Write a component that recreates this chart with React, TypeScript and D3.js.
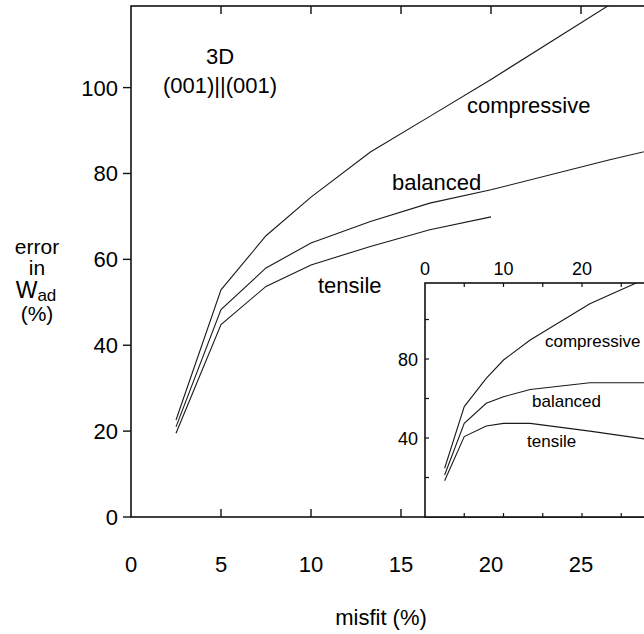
import React, { useRef, useEffect } from "react";
import * as d3 from "d3";

// main panel: 3D (001)||(001), error in W_ad vs misfit
const misfit = [2.5, 5, 7.5, 10, 13.3, 16.6, 20, 26.6, 30];
const compressive = [22.6, 52.9, 65.5, 74.5, 85, 93.3, 101.9, 119.3, 128];
const balanced = [21.0, 48.3, 58, 63.8, 68.8, 73.1, 76.2, 83.2, 86.5];
const tensileMisfit = [2.5, 5, 7.5, 10, 13.3, 16.6, 20];
const tensile = [19.5, 44.8, 53.7, 58.7, 63, 66.9, 69.9];

// inset panel
const insetMisfit = [2.5, 5, 7.8, 10, 13.4, 21, 30];
const insetCompressive = [24.7, 55.9, 70.2, 79.5, 89.6, 108, 124];
const insetBalanced = [21.3, 47.4, 57.6, 60.9, 64.6, 68, 68];
const insetTensile = [18.4, 40.7, 46.1, 47.4, 47.4, 43.5, 38.4];

const xTicks = [0, 5, 10, 15, 20, 25];
const yTicks = [0, 20, 40, 60, 80, 100];
const insetXLabels = [0, 10, 20];
const insetYLabels = [40, 80];

const font = "'Liberation Sans', Arial, Helvetica, sans-serif";

const drawChart = (svgEl: SVGSVGElement) => {
	const svg = d3.select(svgEl);
	svg.selectAll("*").remove();

	const x = d3.scaleLinear().domain([0, 30]).range([131, 671]);
	const y = d3.scaleLinear().domain([0, 119]).range([517, 6]);

	svg
		.append("clipPath")
		.attr("id", "mainClip")
		.append("rect")
		.attr("x", x(0))
		.attr("y", y(119))
		.attr("width", x(30) - x(0))
		.attr("height", y(0) - y(119));

	const line = (xs: number[], ys: number[], sx: any, sy: any) =>
		d3
			.line<number>()
			.x((d, i) => sx(xs[i]))
			.y((d) => sy(d))(ys);

	// curves
	const curves = svg.append("g").attr("clip-path", "url(#mainClip)");
	[
		[misfit, compressive],
		[misfit, balanced],
		[tensileMisfit, tensile],
	].forEach(([xs, ys]) => {
		curves
			.append("path")
			.attr("d", line(xs, ys, x, y))
			.attr("fill", "none")
			.attr("stroke", "#1a1a1a")
			.attr("stroke-width", 1.1);
	});

	// frame
	svg
		.append("rect")
		.attr("x", x(0))
		.attr("y", y(119))
		.attr("width", x(30) - x(0))
		.attr("height", y(0) - y(119))
		.attr("fill", "none")
		.attr("stroke", "#111")
		.attr("stroke-width", 1.6);

	// y ticks (outward) + labels
	yTicks.forEach((t) => {
		svg
			.append("line")
			.attr("x1", x(0) - 8)
			.attr("x2", x(0))
			.attr("y1", y(t))
			.attr("y2", y(t))
			.attr("stroke", "#111")
			.attr("stroke-width", 1.4);
		svg
			.append("text")
			.text(t)
			.attr("x", 118)
			.attr("y", y(t) + 8)
			.attr("text-anchor", "end")
			.attr("font-size", 22)
			.attr("font-family", font);
	});

	// x ticks (inward top and bottom) + labels
	d3.range(5, 30, 5).forEach((t) => {
		[y(0), y(119)].forEach((yy, k) => {
			svg
				.append("line")
				.attr("x1", x(t))
				.attr("x2", x(t))
				.attr("y1", yy)
				.attr("y2", k === 0 ? yy - 8 : yy + 8)
				.attr("stroke", "#111")
				.attr("stroke-width", 1.4);
		});
	});
	xTicks.forEach((t) => {
		svg
			.append("text")
			.text(t)
			.attr("x", x(t))
			.attr("y", 572)
			.attr("text-anchor", "middle")
			.attr("font-size", 22)
			.attr("font-family", font);
	});

	// axis titles
	svg
		.append("text")
		.text("misfit (%)")
		.attr("x", 381)
		.attr("y", 625)
		.attr("text-anchor", "middle")
		.attr("font-size", 22)
		.attr("font-family", font);

	const yl = svg
		.append("text")
		.attr("text-anchor", "middle")
		.attr("font-size", 21)
		.attr("font-family", font);
	yl.append("tspan").attr("x", 37).attr("y", 254).text("error");
	yl.append("tspan").attr("x", 37).attr("y", 275).text("in");
	yl.append("tspan").attr("x", 37).attr("y", 321).text("(%)");
	const w = svg
		.append("text")
		.attr("x", 36)
		.attr("y", 298)
		.attr("text-anchor", "middle")
		.attr("font-size", 23)
		.attr("font-family", font);
	w.append("tspan").text("W");
	w.append("tspan").attr("font-size", 17).attr("dy", 3).text("ad");

	// annotations
	const ann = [
		{ t: "3D", x: 220, y: 64, a: "middle" },
		{ t: "(001)||(001)", x: 220, y: 93, a: "middle" },
		{ t: "compressive", x: 467, y: 113, a: "start" },
		{ t: "balanced", x: 392, y: 190, a: "start" },
		{ t: "tensile", x: 318, y: 293, a: "start" },
	];
	ann.forEach((d) => {
		svg
			.append("text")
			.text(d.t)
			.attr("x", d.x)
			.attr("y", d.y)
			.attr("text-anchor", d.a)
			.attr("font-size", 22)
			.attr("font-family", font);
	});

	// ---- inset ----
	const ix = d3.scaleLinear().domain([0, 30]).range([425, 660.5]);
	const iy = d3.scaleLinear().domain([0, 118.5]).range([517, 283]);
	const inset = svg.append("g");

	inset
		.append("clipPath")
		.attr("id", "insetClip")
		.append("rect")
		.attr("x", ix(0))
		.attr("y", iy(118.5))
		.attr("width", ix(30) - ix(0))
		.attr("height", iy(0) - iy(118.5));

	inset
		.append("rect")
		.attr("x", ix(0))
		.attr("y", iy(118.5))
		.attr("width", ix(30) - ix(0))
		.attr("height", iy(0) - iy(118.5))
		.attr("fill", "white");

	const ic = inset.append("g").attr("clip-path", "url(#insetClip)");
	[insetCompressive, insetBalanced, insetTensile].forEach((ys) => {
		ic.append("path")
			.attr("d", line(insetMisfit, ys, ix, iy))
			.attr("fill", "none")
			.attr("stroke", "#1a1a1a")
			.attr("stroke-width", 1.1);
	});

	inset
		.append("rect")
		.attr("x", ix(0))
		.attr("y", iy(118.5))
		.attr("width", ix(30) - ix(0))
		.attr("height", iy(0) - iy(118.5))
		.attr("fill", "none")
		.attr("stroke", "#111")
		.attr("stroke-width", 1.6);

	d3.range(5, 30, 5).forEach((t) => {
		[iy(0), iy(118.5)].forEach((yy, k) => {
			inset
				.append("line")
				.attr("x1", ix(t))
				.attr("x2", ix(t))
				.attr("y1", yy)
				.attr("y2", k === 0 ? yy - 4 : yy + 4)
				.attr("stroke", "#111")
				.attr("stroke-width", 1.2);
		});
	});
	d3.range(20, 118, 20).forEach((t) => {
		inset
			.append("line")
			.attr("x1", ix(0))
			.attr("x2", ix(0) + 4)
			.attr("y1", iy(t))
			.attr("y2", iy(t))
			.attr("stroke", "#111")
			.attr("stroke-width", 1.2);
	});

	insetXLabels.forEach((t) => {
		inset
			.append("text")
			.text(t)
			.attr("x", ix(t))
			.attr("y", 275)
			.attr("text-anchor", "middle")
			.attr("font-size", 18)
			.attr("font-family", font);
	});
	insetYLabels.forEach((t) => {
		inset
			.append("text")
			.text(t)
			.attr("x", 418)
			.attr("y", iy(t) + 7)
			.attr("text-anchor", "end")
			.attr("font-size", 18)
			.attr("font-family", font);
	});

	[
		{ t: "compressive", x: 545, y: 347 },
		{ t: "balanced", x: 532, y: 407 },
		{ t: "tensile", x: 527, y: 447 },
	].forEach((d) => {
		inset
			.append("text")
			.text(d.t)
			.attr("x", d.x)
			.attr("y", d.y)
			.attr("font-size", 17)
			.attr("font-family", font);
	});
};

const App = () => {
	const svg = useRef<SVGSVGElement>(null);

	useEffect(() => {
		if (svg.current) drawChart(svg.current);
	}, []);

	return (
		<svg
			ref={svg}
			width={644}
			height={634}
			style={{ position: "absolute", left: 0, top: 0, background: "white" }}
		/>
	);
};

export default App;
